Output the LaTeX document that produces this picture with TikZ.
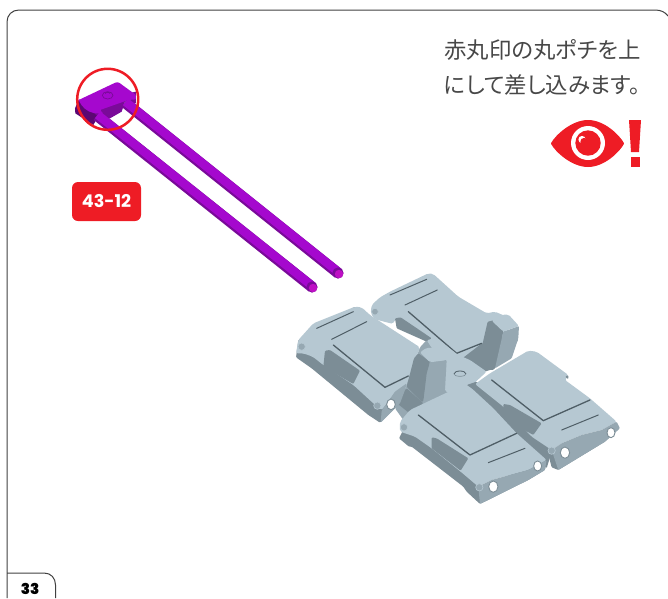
\documentclass[tikz,border=0pt]{standalone}
\usepackage{fontspec}
\newfontfamily\jpfont[RawFeature=+palt]{Noto Sans CJK JP}
\newfontfamily\tagfont{Poppins}
\newfontfamily\pagefont{Poppins Black}
\definecolor{eyered}{HTML}{EE1C25}
\definecolor{bodyblue}{HTML}{B6C8D2}
\definecolor{midblue}{HTML}{96A8B2}
\definecolor{sideblue}{HTML}{7C8D96}
\definecolor{edgeblue}{HTML}{4F5E66}
\definecolor{rodpurple}{HTML}{A508CE}
\definecolor{roddark}{HTML}{7A0A99}
\definecolor{rodcap}{HTML}{BE10C4}
\tikzset{
	body/.style={fill=bodyblue,rounded corners=2pt},
	side/.style={fill=sideblue,rounded corners=1pt},
	mid/.style={fill=midblue,rounded corners=1pt},
	groove/.style={draw=edgeblue,line width=1pt,line cap=round},
	hole/.style={fill=white,draw=sideblue,line width=0.9pt},
	bump/.style={fill=midblue,draw=bodyblue,line width=0.6pt},
	rodline/.style={line width=11pt,color=roddark},
	rodtop/.style={line width=8.5pt,color=rodpurple}
}
\begin{document}
\begin{tikzpicture}[x=1pt,y=-1pt]
	\useasboundingbox (0,0) rectangle (668,598);
	% frame and page tab
	\draw [line width=1pt,color=black!75] (7,598) -- (7,22) .. controls (7,15) and (12,10) .. (19,10) -- (655,10) .. controls (661,10) and (665,12) .. (668,16);
	\draw [line width=1pt,color=black!75] (7,573) -- (44,573) .. controls (51,573) and (55.5,578) .. (55.5,585) -- (55.5,598);
	\node [inner sep=0] (page) at (30,588.5) {\pagefont\fontsize{15}{15}\selectfont 33};
	% text
	\node [anchor=west,inner sep=0,text=black!72] (line_a) at (444,50) {\jpfont\fontsize{22.4}{22.4}\selectfont 赤丸印の丸ポチを上};
	\node [anchor=west,inner sep=0,text=black!72] (line_b) at (444,85) {\jpfont\fontsize{22.4}{22.4}\selectfont にして差し込みます。};
	% eye
	\fill [eyered,draw=eyered,line width=2pt,line join=round] (552,143.5) .. controls (556,136) and (572,121) .. (588,121) .. controls (604,121) and (619,136) .. (623,143.5) .. controls (619,151) and (604,166) .. (588,166) .. controls (572,166) and (556,151) .. (552,143.5) -- cycle;
	\fill [white] (588,143) circle (17);
	\fill [eyered] (588,143) circle (12.7);
	\fill [white] (582,139.5) circle (3.6);
	\fill [eyered] (584,141.5) circle (3.6);
	\fill [eyered] (629,120) -- (641,120) -- (639,152) -- (631,152) -- cycle;
	\fill [eyered] (630.5,157) rectangle (640,167);
	% tag
	\node [fill=eyered,rounded corners=6,minimum width=69,minimum height=39,inner sep=0,text=white] (tag) at (106.5,201.5) {\tagfont\bfseries\fontsize{17.5}{17.5}\selectfont 43-12};
	% clip head, back part
	\begin{scope}[shift={(50,50)},x=0.3333pt,y=-0.3333pt]
		\fill [roddark!75!black] (86,150) -- (75,175) -- (76,190) -- (130,225) -- (150,190) -- cycle;
		\fill [roddark] (100,160) -- (258,125) -- (258,160) -- (225,155) -- (215,185) -- (180,205) -- (150,205) -- cycle;
	\end{scope}
	% rods
	\draw [rodline] (125,102.6) -- (338,273);
	\draw [rodtop] (125.6,101.8) -- (338.6,272.2);
	\fill [roddark] (338,273) circle (5.6);
	\fill [rodcap] (339,274) circle (4.2);
	\draw [rodline] (97,115.6) -- (312,287);
	\draw [rodtop] (97.6,114.8) -- (312.6,286.2);
	\fill [roddark] (312,287) circle (5.6);
	\fill [rodcap] (313,288) circle (4.2);
	% clip head, top
	\begin{scope}[shift={(50,50)},x=0.3333pt,y=-0.3333pt]
		\fill [rodpurple,rounded corners=1pt] (86,150) -- (198,97) -- (206,97) -- (258,135) -- (258,148) -- (235,150) -- (150,180) -- (160,190) -- (135,190) .. controls (110,185) and (95,170) .. (86,150) -- cycle;
		\draw [color=roddark,line width=0.7pt] (173,136) circle [x radius=16,y radius=11];
		\draw [color=roddark,line width=0.7pt] (173,131) ++(-7,0) arc (180:360:7 and 4);
	\end{scope}
	\draw [line width=2.5pt,color=eyered] (107.7,99.3) circle (30.5);
	% blocks
	\begin{scope}[shift={(280,260)},x=0.3333pt,y=-0.3333pt]
		% back block
		\fill [side] (345,175) -- (440,245) -- (510,330) -- (640,330) -- (715,240) -- (600,170) -- cycle;
		\fill [body] (272,160) -- (275,135) -- (300,112) -- (330,95) -- (445,40) -- (460,42) -- (535,110) -- (620,160) -- (645,155) -- (680,170) -- (680,230) -- (605,250) -- (540,300) -- (500,320) -- (440,245) -- (345,178) -- (340,192) -- (285,178) -- cycle;
		\fill [side] (345,175) -- (362,172) -- (455,235) -- (440,245) -- (350,205) -- cycle;
		\draw [groove,line width=1.3pt] (385,155) -- (530,280) -- (605,250);
		\draw [groove] (330,105) -- (440,58) (375,135) -- (472,90);
		\draw [bump] (285,155) circle (10);
		% tower back
		\fill [side] (600,285) -- (623,185) -- (645,180) -- (670,215) -- (645,325) -- cycle;
		\fill [mid] (670,215) -- (717,198) -- (715,235) -- (695,295) -- (645,325) -- cycle;
		\fill [body] (635,182) -- (665,165) -- (685,163) -- (717,198) -- (670,215) -- cycle;
		% hub
		\fill [mid] (370,395) -- (420,262) -- (440,240) -- (500,320) -- (590,365) -- (560,380) -- (370,480) -- (345,445) -- cycle;
		\fill [side] (570,300) -- (610,290) -- (645,325) -- (615,335) -- cycle;
		\fill [body] (440,240) -- (470,235) -- (535,285) -- (570,300) -- (620,335) -- (580,372) -- (515,400) -- (495,395) -- (495,325) -- cycle;
		\draw [edgeblue,line width=0.8pt] (522,342) arc (180:360:18 and 9);
		\draw [sideblue,line width=0.6pt] (522,342) arc (180:0:18 and 7);
		\fill [side] (380,385) -- (430,430) -- (395,465) -- (345,425) -- cycle;
		% left block
		\fill [side] (48,292) -- (55,240) -- (225,140) -- (345,270) -- (375,390) -- (360,430) -- (300,488) -- (265,465) -- (95,325) -- cycle;
		\fill [body] (48,280) -- (55,240) -- (100,190) -- (225,140) -- (245,142) -- (270,165) -- (420,262) -- (385,360) -- (375,390) -- (345,400) -- (305,450) -- (280,430) -- (220,375) -- (130,315) -- (98,290) -- (70,280) -- cycle;
		\fill [mid] (305,452) -- (345,395) -- (380,370) -- (375,390) -- (360,430) -- (302,488) -- cycle;
		\fill [side] (135,272) -- (150,270) -- (240,332) -- (220,372) -- (130,320) -- cycle;
		\draw [groove,line width=1.3pt] (160,255) -- (315,382) -- (385,348);
		\draw [groove] (110,205) -- (220,155) (155,238) -- (260,185);
		\draw [hole] (333,433) circle [x radius=13,y radius=16];
		\draw [bump] (65,260) circle (11);
		\draw [bump] (292,437) circle (11);
		% tower front
		\fill [side] (380,380) -- (402,295) -- (415,280) -- (450,305) -- (440,340) -- (430,425) -- (425,425) -- cycle;
		\fill [mid] (450,305) -- (500,300) -- (495,390) -- (430,425) -- cycle;
		\fill [body] (420,277) -- (440,263) -- (465,265) -- (500,300) -- (450,307) -- cycle;
		% gap between the front blocks
		\fill [side] (560,375) -- (590,365) -- (815,575) -- (800,625) -- cycle;
		% front right block
		\fill [side] (760,525) -- (815,570) -- (1017,505) -- (975,545) -- (835,630) -- (815,622) -- (803,575) -- cycle;
		\fill [body] (585,372) -- (630,340) -- (745,272) -- (770,275) -- (865,345) -- (855,360) -- (930,415) -- (1010,485) -- (965,510) -- (905,525) -- (845,550) -- (815,570) -- (755,530) -- (670,440) -- cycle;
		\fill [mid] (835,630) -- (975,545) -- (1020,505) -- (1010,485) -- (965,510) -- (905,525) -- (845,550) -- (815,570) -- cycle;
		\fill [side] (670,432) -- (690,435) -- (785,490) -- (760,525) -- (670,475) -- cycle;
		\fill [side] (855,350) -- (865,345) -- (865,358) -- cycle;
		\draw [groove,line width=1.3pt] (635,360) -- (790,482) -- (930,420);
		\draw [groove] (845,510) -- (955,465);
		\draw [hole] (855,578) circle [x radius=14,y radius=17];
		\draw [hole] (993,518) circle [x radius=12,y radius=15];
		\draw [bump] (815,572) circle (11);
		% front left block
		\fill [side] (357,535) -- (375,500) -- (600,680) -- (800,600) -- (795,630) -- (745,660) -- (600,732) -- (560,695) -- (550,680) -- (395,560) -- (387,560) -- cycle;
		\fill [body] (360,515) -- (360,485) -- (390,450) -- (555,372) -- (575,385) -- (640,445) -- (710,520) -- (800,600) -- (745,630) -- (690,645) -- (635,660) -- (595,680) -- (542,635) -- (455,565) -- (405,530) -- (375,520) -- cycle;
		\fill [mid] (600,732) -- (745,660) -- (795,630) -- (800,600) -- (745,630) -- (690,645) -- (635,660) -- (595,680) -- cycle;
		\fill [side] (455,532) -- (470,535) -- (565,595) -- (542,632) -- (455,565) -- cycle;
		\draw [groove,line width=1.3pt] (415,465) -- (570,585) -- (710,520);
		\draw [groove] (625,608) -- (735,565);
		\draw [hole] (640,680) circle [x radius=14,y radius=17];
		\draw [hole] (773,618) circle [x radius=12,y radius=15];
		\draw [bump] (598,682) circle (11);
		\draw [bump] (372,502) circle (11);
	\end{scope}
\end{tikzpicture}
\end{document}
